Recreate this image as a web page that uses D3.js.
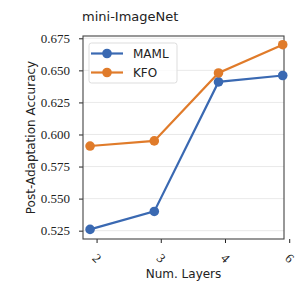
<!DOCTYPE html>
<html>
<head>
<meta charset="utf-8">
<script src="https://cdn.jsdelivr.net/npm/d3@7"></script>
<style>
  body { margin: 0; background: #fff; }
  svg { display: block; }
  .tick text { font-family: "Liberation Serif", "DejaVu Serif", serif; }
</style>
</head>
<body>
<script>
// data
var layers = ["2", "3", "4", "6"];
var maml = [0.526, 0.540, 0.641, 0.646];
var kfo = [0.591, 0.595, 0.648, 0.670];
var yTicks = [0.525, 0.550, 0.575, 0.600, 0.625, 0.650, 0.675];
var seriesNames = ["MAML", "KFO"];
var colors = ["#3a69b2", "#e07b2a"];

var margin = {top: 36, right: 15, bottom: 60, left: 83},
    width = 299 - margin.left - margin.right,
    height = 299 - margin.top - margin.bottom;

var svg = d3.select("body").append("svg")
    .attr("width", 299)
    .attr("height", 299);

var g = svg.append("g")
    .attr("transform", "translate(" + margin.left + "," + margin.top + ")");

// points sit a bit left of their ticks in the original
var x = d3.scaleLinear().domain([-0.11, 3.02]).range([0, width]);
var y = d3.scaleLinear().domain([0.5185, 0.6768]).range([height, 0]);

// horizontal grid
g.append("g")
  .selectAll("line")
  .data(yTicks)
  .join("line")
    .attr("x1", 0).attr("x2", width)
    .attr("y1", function(d) { return y(d); })
    .attr("y2", function(d) { return y(d); })
    .attr("stroke", "#e3e3e3")
    .attr("stroke-width", 0.8);

// y axis
var yAxis = g.append("g")
    .attr("font-family", null)
    .call(d3.axisLeft(y).tickValues(yTicks).tickFormat(d3.format(".3f")).tickSize(4).tickPadding(9));
yAxis.attr("font-family", null);
yAxis.select(".domain").remove();
yAxis.selectAll("line").attr("stroke", "#222");
yAxis.selectAll("text")
    .style("font-size", "13px")
    .attr("fill", "#222");

// x axis (ticks shifted right of the points)
var xTickPos = d3.scaleLinear().domain([0, 3]).range([x(0) + 6.5, x(3) + 6.5]);
var xAxis = g.append("g")
    .attr("transform", "translate(0," + height + ")")
    .call(d3.axisBottom(xTickPos).tickValues([0, 1, 2, 3])
      .tickFormat(function(i) { return layers[i]; }).tickSize(4).tickPadding(0));
xAxis.attr("font-family", null);
xAxis.select(".domain").remove();
xAxis.selectAll("line").attr("stroke", "#222");
xAxis.selectAll("text")
    .style("font-size", "13px")
    .attr("fill", "#222")
    .attr("dy", null)
    .attr("y", 0)
    .attr("text-anchor", "middle")
    .attr("dominant-baseline", "central")
    .attr("transform", "translate(0,19) rotate(45)");

// frame
g.append("rect")
    .attr("width", width).attr("height", height)
    .attr("fill", "none")
    .attr("stroke", "#444")
    .attr("stroke-width", 1.1);

// lines
var line = d3.line()
    .x(function(d, i) { return x(i); })
    .y(function(d) { return y(d); });

[maml, kfo].forEach(function(vals, k) {
  g.append("path")
      .datum(vals)
      .attr("fill", "none")
      .attr("stroke", colors[k])
      .attr("stroke-width", 2.2)
      .attr("d", line);
  g.selectAll(".dot" + k)
    .data(vals)
    .join("circle")
      .attr("cx", function(d, i) { return x(i); })
      .attr("cy", function(d) { return y(d); })
      .attr("r", 4.8)
      .attr("fill", colors[k]);
});

// legend
var legend = svg.append("g").attr("transform", "translate(89,43)");
legend.append("rect")
    .attr("width", 88).attr("height", 40)
    .attr("rx", 2.5)
    .attr("fill", "#fff")
    .attr("fill-opacity", 0.8)
    .attr("stroke", "#ddd");
seriesNames.forEach(function(name, k) {
  var ly = 10.5 + k * 19;
  legend.append("line")
      .attr("x1", 2).attr("x2", 34)
      .attr("y1", ly).attr("y2", ly)
      .attr("stroke", colors[k])
      .attr("stroke-width", 2.2);
  legend.append("circle")
      .attr("cx", 18).attr("cy", ly).attr("r", 4.8)
      .attr("fill", colors[k]);
  legend.append("text")
      .attr("x", 44).attr("y", ly + 4.3)
      .attr("font-family", "'DejaVu Sans', sans-serif")
      .attr("font-size", 12)
      .attr("fill", "#222")
      .text(name);
});

// title and axis labels
svg.append("text")
    .attr("x", 82).attr("y", 21)
    .attr("font-family", "'DejaVu Sans', sans-serif")
    .attr("font-size", 13)
    .attr("fill", "#222")
    .text("mini-ImageNet");

svg.append("text")
    .attr("transform", "translate(35," + (margin.top + height / 2) + ") rotate(-90)")
    .attr("text-anchor", "middle")
    .attr("font-family", "'DejaVu Sans', sans-serif")
    .attr("font-size", 12)
    .attr("fill", "#222")
    .text("Post-Adaptation Accuracy");

svg.append("text")
    .attr("x", margin.left + width / 2).attr("y", 278)
    .attr("text-anchor", "middle")
    .attr("font-family", "'DejaVu Sans', sans-serif")
    .attr("font-size", 12)
    .attr("fill", "#222")
    .text("Num. Layers");
</script>
</body>
</html>
